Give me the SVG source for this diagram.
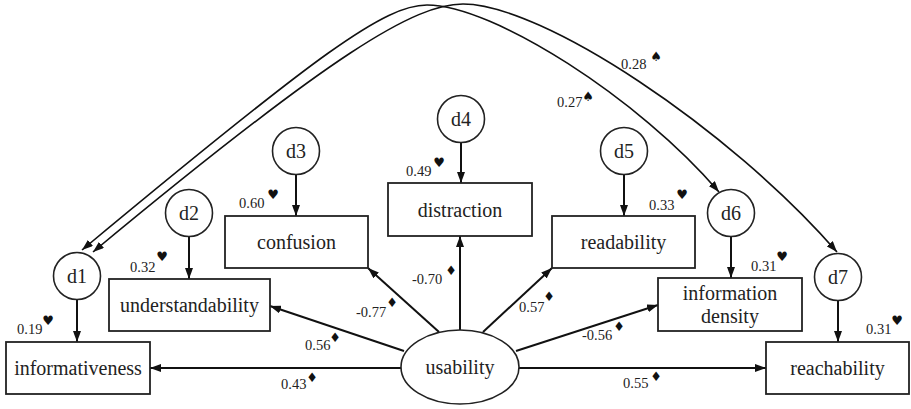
<svg xmlns="http://www.w3.org/2000/svg" width="911" height="409" viewBox="0 0 911 409">
<style>
.box{fill:#fff;stroke:#222;stroke-width:1.8}
.lat{fill:#fff;stroke:#222;stroke-width:1.6}
.lbl{font-size:20px;fill:#222;text-anchor:middle}
.num{font-size:14.5px;fill:#222}
.sym{font-family:"DejaVu Sans",sans-serif;font-size:13px;fill:#111;text-anchor:middle}
.ln{stroke:#111;stroke-width:2;fill:none;marker-end:url(#ah)}
.cv{stroke:#111;stroke-width:1.6;fill:none;marker-start:url(#ah2);marker-end:url(#ah2)}
</style>
<defs>
<marker id="ah" markerUnits="userSpaceOnUse" markerWidth="11" markerHeight="8" refX="11" refY="4" orient="auto"><path d="M0,0 L11,4 L0,8 z" fill="#111"/></marker>
<marker id="ah2" markerUnits="userSpaceOnUse" markerWidth="11" markerHeight="8" refX="11" refY="4" orient="auto-start-reverse"><path d="M0,0 L11,4 L0,8 z" fill="#111"/></marker>
</defs>
<rect width="911" height="409" fill="#fff"/>
<g id="connectors">
<path class="cv" d="M82,250 C320,52 385,5 427,5 C493,5 639,98.5 719,192"/>
<path class="cv" d="M93,252 C334,52 415,4 463,4 C542,4 729,128 837,252"/>
<line class="ln" x1="77" y1="300" x2="77" y2="342"/>
<line class="ln" x1="189" y1="237" x2="189" y2="279"/>
<line class="ln" x1="296" y1="175" x2="296" y2="216"/>
<line class="ln" x1="461" y1="143" x2="461" y2="183"/>
<line class="ln" x1="624" y1="175" x2="624" y2="216"/>
<line class="ln" x1="731" y1="237" x2="731" y2="278"/>
<line class="ln" x1="838" y1="301" x2="838" y2="342"/>
<line class="ln" x1="401" y1="368" x2="150" y2="368"/>
<line class="ln" x1="519" y1="368" x2="766" y2="368"/>
<line class="ln" x1="404" y1="351" x2="270" y2="306"/>
<line class="ln" x1="439" y1="332" x2="368" y2="268"/>
<line class="ln" x1="460" y1="330" x2="460" y2="236"/>
<line class="ln" x1="483" y1="332" x2="552" y2="268"/>
<line class="ln" x1="516" y1="351" x2="658" y2="305"/>
</g>
<g font-family="Liberation Serif, Times New Roman, serif">
<g id="informativeness"><rect class="box" x="6" y="342" width="144" height="52"/><text class="lbl" x="78" y="375">informativeness</text></g>
<g id="understandability"><rect class="box" x="109" y="279" width="161" height="52"/><text class="lbl" x="189.5" y="312">understandability</text></g>
<g id="confusion"><rect class="box" x="225" y="216" width="143" height="52"/><text class="lbl" x="296.5" y="249">confusion</text></g>
<g id="distraction"><rect class="box" x="388" y="183" width="144" height="53"/><text class="lbl" x="460" y="216.5">distraction</text></g>
<g id="readability"><rect class="box" x="552" y="216" width="143" height="52"/><text class="lbl" x="623.5" y="249">readability</text></g>
<g id="information-density"><rect class="box" x="658" y="278" width="144" height="53"/><text class="lbl" x="730" y="300">information</text><text class="lbl" x="730" y="323">density</text></g>
<g id="reachability"><rect class="box" x="766" y="342" width="143" height="52"/><text class="lbl" x="837.5" y="375">reachability</text></g>
<g id="usability"><ellipse class="lat" cx="460" cy="367" rx="59" ry="37"/><text class="lbl" x="460" y="374">usability</text></g>
<g id="d1"><circle class="lat" cx="77" cy="276" r="23.5"/><text class="lbl" x="77" y="283">d1</text></g>
<g id="d2"><circle class="lat" cx="189" cy="213" r="23.5"/><text class="lbl" x="189" y="220">d2</text></g>
<g id="d3"><circle class="lat" cx="296" cy="151" r="23.5"/><text class="lbl" x="296" y="158">d3</text></g>
<g id="d4"><circle class="lat" cx="461" cy="119" r="23.5"/><text class="lbl" x="461" y="126">d4</text></g>
<g id="d5"><circle class="lat" cx="624" cy="151" r="23.5"/><text class="lbl" x="624" y="158">d5</text></g>
<g id="d6"><circle class="lat" cx="731" cy="213" r="23.5"/><text class="lbl" x="731" y="220">d6</text></g>
<g id="d7"><circle class="lat" cx="838" cy="277" r="23.5"/><text class="lbl" x="838" y="284">d7</text></g>
<g id="labels">
<text class="num" x="17" y="334">0.19</text><text class="sym" x="48" y="325">♥</text>
<text class="num" x="130" y="272">0.32</text><text class="sym" x="162" y="261">♥</text>
<text class="num" x="239" y="208">0.60</text><text class="sym" x="273" y="199">♥</text>
<text class="num" x="406" y="176">0.49</text><text class="sym" x="439" y="167">♥</text>
<text class="num" x="649" y="210">0.33</text><text class="sym" x="682" y="199">♥</text>
<text class="num" x="751" y="271">0.31</text><text class="sym" x="782" y="261">♥</text>
<text class="num" x="866" y="334">0.31</text><text class="sym" x="897" y="325">♥</text>
<text class="num" x="281" y="389">0.43</text><text class="sym" x="312" y="382">♦</text>
<text class="num" x="305" y="350">0.56</text><text class="sym" x="335" y="342">♦</text>
<text class="num" x="356" y="317">-0.77</text><text class="sym" x="392" y="307">♦</text>
<text class="num" x="412" y="284">-0.70</text><text class="sym" x="451" y="275">♦</text>
<text class="num" x="519" y="312">0.57</text><text class="sym" x="549" y="301">♦</text>
<text class="num" x="582" y="340">-0.56</text><text class="sym" x="619" y="331">♦</text>
<text class="num" x="623" y="388">0.55</text><text class="sym" x="656" y="381">♦</text>
<text class="num" x="557" y="107">0.27</text><text class="sym" x="588" y="101">♠</text>
<text class="num" x="621" y="69">0.28</text><text class="sym" x="656" y="61">♠</text>
</g>
</g>
</svg>
